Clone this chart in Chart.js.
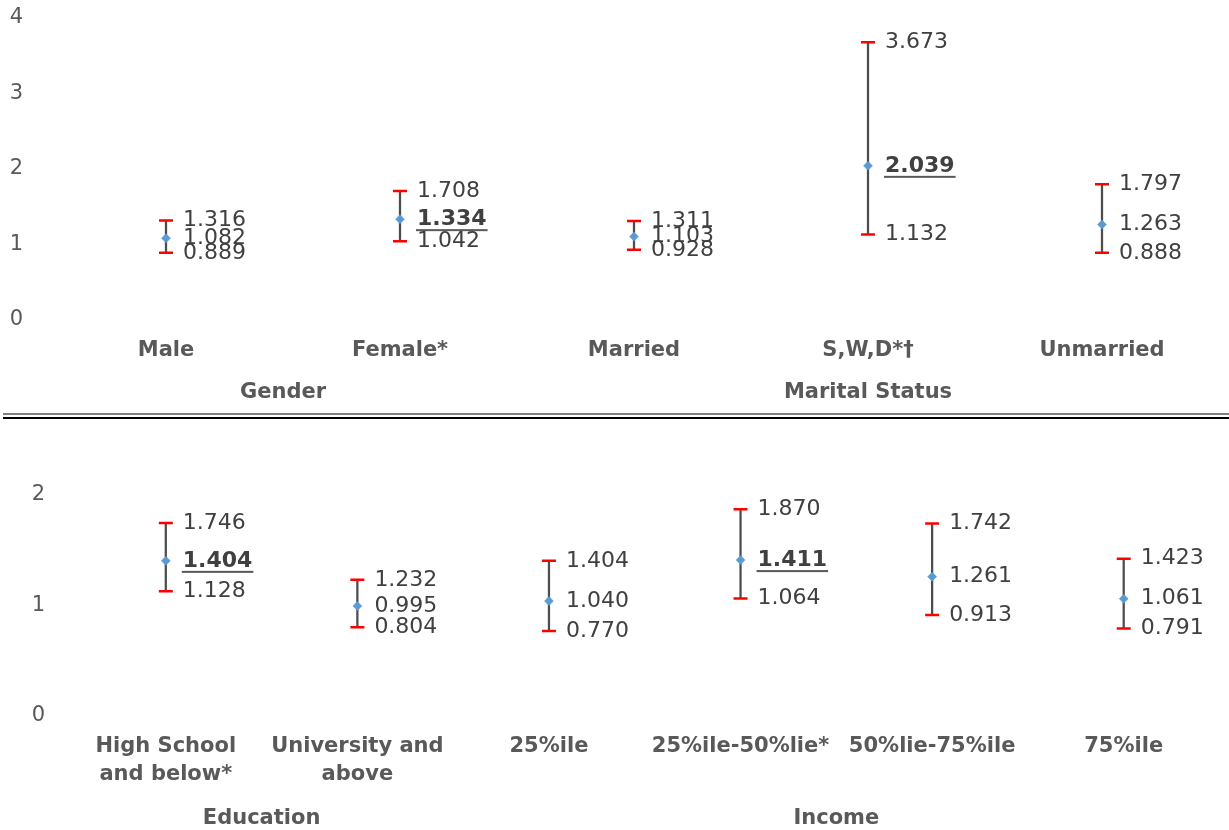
<!DOCTYPE html>
<html>
<head>
<meta charset="utf-8">
<script src="https://cdn.jsdelivr.net/npm/chart.js@4.4.1/dist/chart.umd.min.js"></script>
<style>
  html, body { margin: 0; padding: 0; background: #fff; }
  #wrap { position: relative; width: 1229px; height: 830px; overflow: hidden; }
  #top { position: absolute; left: 0; top: -21px; width: 1229px; height: 433px; }
  #bot { position: absolute; left: 0; top: 420px; width: 1229px; height: 410px; }
  .sep1 { position: absolute; left: 3px; top: 413px; width: 1226px; height: 2px; background: #7f7f7f; }
  .sep2 { position: absolute; left: 3px; top: 416.5px; width: 1226px; height: 2.5px; background: #000; }
</style>
</head>
<body>
<div id="wrap">
  <div id="top"><canvas id="c1"></canvas></div>
  <div class="sep1"></div>
  <div class="sep2"></div>
  <div id="bot"><canvas id="c2"></canvas></div>
</div>
<script>
// ---- Data: top panel (Gender, Marital Status) ----
const topCategories = ['Male', 'Female*', 'Married', 'S,W,D*\u2020', 'Unmarried'];
const topEstimate = [1.082, 1.334, 1.103, 2.039, 1.263];
const topUpper    = [1.316, 1.708, 1.311, 3.673, 1.797];
const topLower    = [0.889, 1.042, 0.928, 1.132, 0.888];
const topSignificant = [false, true, false, true, false];
const topGroups = [
  { label: 'Gender', from: 0, to: 1 },
  { label: 'Marital Status', from: 2, to: 4 }
];
const topTicks = [0, 1, 2, 3, 4];

// ---- Data: bottom panel (Education, Income) ----
const botCategories = [['High School', 'and below*'], ['University and', 'above'], '25%ile', '25%ile-50%lie*', '50%lie-75%ile', '75%ile'];
const botEstimate = [1.404, 0.995, 1.040, 1.411, 1.261, 1.061];
const botUpper    = [1.746, 1.232, 1.404, 1.870, 1.742, 1.423];
const botLower    = [1.128, 0.804, 0.770, 1.064, 0.913, 0.791];
const botSignificant = [true, false, false, true, false, false];
const botGroups = [
  { label: 'Education', from: 0, to: 1 },
  { label: 'Income', from: 2, to: 5 }
];
const botTicks = [0, 1, 2];

const LABEL_FONT = '"DejaVu Sans", sans-serif';

function labelsPlugin(est, up, lo, sig, groups, groupY) {
  return {
    id: 'labelsPlugin',
    afterDatasetsDraw(chart) {
      const ctx = chart.ctx;
      const xs = chart.scales.x, ys = chart.scales.y;
      ctx.save();
      ctx.textBaseline = 'middle';
      ctx.textAlign = 'left';
      for (let i = 0; i < est.length; i++) {
        const x = xs.getPixelForValue(i) + 17;
        const items = [[up[i], false], [est[i], sig[i]], [lo[i], false]];
        items.forEach(([v, bold]) => {
          const y = ys.getPixelForValue(v);
          ctx.font = (bold ? 'bold ' : '') + '22px ' + LABEL_FONT;
          ctx.fillStyle = '#404040';
          const t = v.toFixed(3);
          ctx.fillText(t, x, y);
          if (bold) {
            const w = ctx.measureText(t).width;
            ctx.fillStyle = '#595959';
            ctx.fillRect(x - 1, y + 10, w + 2, 2);
          }
        });
      }
      // group labels
      ctx.font = 'bold 21px ' + LABEL_FONT;
      ctx.fillStyle = '#595959';
      ctx.textAlign = 'center';
      groups.forEach(g => {
        const cx = (xs.getPixelForValue(g.from) + xs.getPixelForValue(g.to)) / 2;
        ctx.fillText(g.label, cx, groupY);
      });
      ctx.restore();
    }
  };
}

function makeChart(id, cats, est, up, lo, sig, groups, ticks, opt) {
  const ctx = document.getElementById(id);
  return new Chart(ctx, {
    type: 'bar',
    data: {
      labels: cats,
      datasets: [
        {
          type: 'bar',
          data: cats.map((_, i) => [lo[i], up[i]]),
          backgroundColor: '#4d4d4d',
          barThickness: 1.6,
          borderWidth: 0,
          grouped: false,
          order: 3
        },
        {
          type: 'line', data: up, showLine: false,
          pointStyle: 'line', pointRadius: 7, pointHoverRadius: 7,
          pointBorderColor: '#ff0000', pointBorderWidth: 2.5, order: 2
        },
        {
          type: 'line', data: lo, showLine: false,
          pointStyle: 'line', pointRadius: 7, pointHoverRadius: 7,
          pointBorderColor: '#ff0000', pointBorderWidth: 2.5, order: 2
        },
        {
          type: 'line', data: est, showLine: false,
          pointStyle: 'rectRot', pointRadius: 4.5, pointHoverRadius: 4.5,
          pointBackgroundColor: '#5b9bd5', pointBorderColor: '#5b9bd5', pointBorderWidth: 0.5, order: 1
        }
      ]
    },
    options: {
      responsive: true,
      maintainAspectRatio: false,
      animation: false,
      events: [],
      layout: { padding: { top: opt.padTop, right: opt.padRight, left: 0, bottom: 0 } },
      plugins: { legend: { display: false }, tooltip: { enabled: false } },
      scales: {
        x: {
          offset: true,
          grid: { display: false, drawTicks: false },
          border: { display: false },
          ticks: {
            color: '#595959',
            font: { family: LABEL_FONT, size: 21, weight: 'bold', lineHeight: 1.33 },
            padding: opt.xPad,
            maxRotation: 0, autoSkip: false
          },
          afterFit(scale) { scale.height = opt.xHeight; }
        },
        y: {
          min: 0, max: ticks[ticks.length - 1],
          grid: { display: false, drawTicks: false },
          border: { display: false },
          afterBuildTicks(scale) { scale.ticks = ticks.map(v => ({ value: v })); },
          ticks: {
            color: '#595959',
            font: { family: LABEL_FONT, size: 21 },
            padding: opt.yPad
          },
          afterFit(scale) { scale.width = opt.yWidth; }
        }
      }
    },
    plugins: [labelsPlugin(est, up, lo, sig, groups, opt.groupY)]
  });
}

makeChart('c1', topCategories, topEstimate, topUpper, topLower, topSignificant, topGroups, topTicks,
  { padTop: 38, padRight: 10, xHeight: 92, xPad: 17, yPad: 26, yWidth: 49, groupY: 414 });
makeChart('c2', botCategories, botEstimate, botUpper, botLower, botSignificant, botGroups, botTicks,
  { padTop: 75, padRight: 9, xHeight: 114, xPad: 17, yPad: 25, yWidth: 70, groupY: 399 });
</script>
</body>
</html>
